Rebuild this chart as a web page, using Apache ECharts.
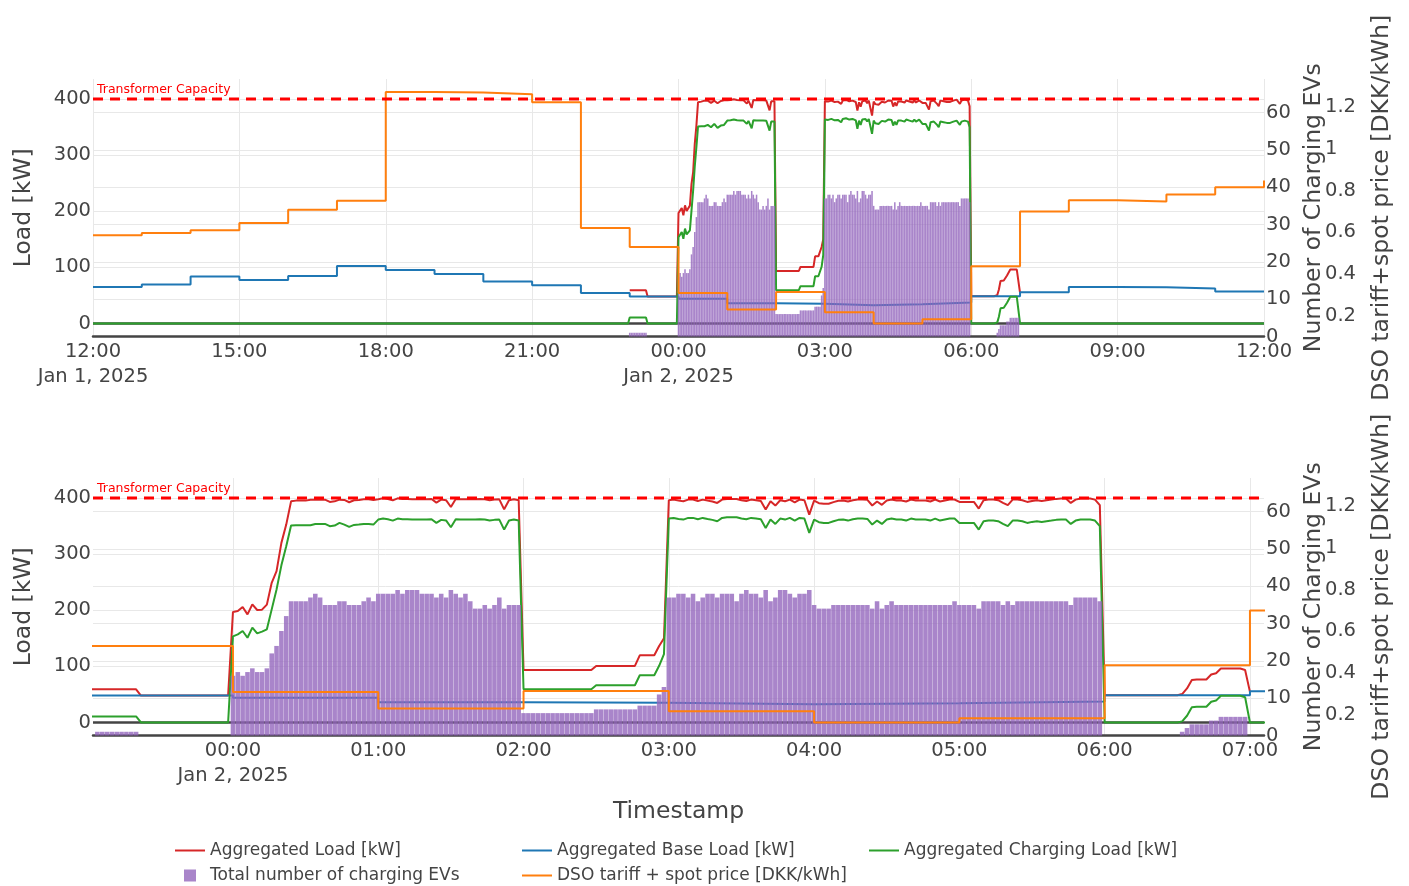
<!DOCTYPE html>
<html>
<head>
<meta charset="utf-8">
<title>Aggregated load and EV charging</title>
<script src="https://cdn.jsdelivr.net/npm/echarts@6/dist/echarts.min.js"></script>
<style>
  html, body { margin: 0; padding: 0; background: #fff; }
  #chart { width: 1409px; height: 886px; }
</style>
</head>
<body>
<div id="chart"></div>
<script>
// hourly values from 12:00 Jan 1 to 12:00 Jan 2 (last entry is the value at the end point)
const baseLoadKw = [65.2, 69.3, 83.6, 77.6, 84.7, 102.5, 95.4, 88.3, 74.7, 68.1, 54.5, 48.0,
  43.9, 36.1, 35.0, 32.3, 34.4, 37.3, 48.6, 55.7, 65.2, 64.6, 62.2, 56.9, 56.9];
const priceDkk = [0.586, 0.597, 0.610, 0.645, 0.708, 0.751, 1.270, 1.267, 1.259, 1.221, 0.621, 0.530,
  0.311, 0.232, 0.316, 0.219, 0.165, 0.186, 0.438, 0.700, 0.754, 0.748, 0.781, 0.816, 0.848];

// 2-minute samples from 23:00 Jan 1 to 07:00 Jan 2
const totalLoadKw = [
  59, 59, 59, 59, 59, 59, 59, 59, 59, 59, 59,
  48, 48, 48, 48, 48, 48, 48, 48, 48, 48, 48, 48, 48, 48, 48, 48, 48, 48, 48,
  196.8, 198.5, 205.7, 192.6, 210.4, 200.4, 201, 210, 248.9, 269.7, 320, 352.6, 394, 395.3, 395.3, 395.3,
  397, 397, 397, 397, 393, 394, 397,
  396.5, 392.4, 395.9, 396.5, 397.7, 397.7, 396.5, 397.6, 399.4, 398.1, 395.8, 399.4, 398.1, 398.1,
  397.6, 397.6, 397.6, 397.6, 398.1, 391.7, 397.1, 396.1, 384, 398.1, 397.6, 397.6, 397.6, 397.6,
  398.1, 397.6, 396.1, 397.1, 397.6, 379.8, 395.8, 397.6, 396.1,
  93.5, 93.5, 93.5, 93.5, 93.5, 93.5, 93.5, 93.5, 93.5, 93.5, 93.5, 93.5, 93.5, 93.5, 93.5,
  100.8, 100.8, 100.8, 100.8, 100.8, 100.8, 100.8, 100.8, 100.8,
  119.7, 119.7, 119.7, 119.7, 136.3, 150,
  395.9, 397.1, 395.3, 394.1, 397.1, 397.1, 394.6, 397.1, 395.3, 393.6, 391.2, 397.1, 398.3, 398.3,
  398.3, 395.9, 394.6, 397.1, 395.9, 394.6, 379.3, 394.1, 386.4, 395.9, 394.1, 397.1, 392.3, 397.1,
  395.9, 370.4, 395.5,
  390.8, 389.6, 389.6, 392.6, 395, 395.5, 393.7, 396, 397.3, 397.3, 396.7, 386.6, 393.7, 387.8, 395.5,
  397.3, 395.5, 395.5, 393.7, 397.3, 395.5, 395.5, 395.5, 393.7, 397.3, 393.7, 395.5, 397.3, 397.3,
  393, 393, 393, 393, 381.1, 396, 397.1, 397.1, 396, 391.2, 387.1, 397.1, 397.1, 396, 393,
  394.8, 396, 394.8, 396, 397.1, 398.4, 398.9, 398.9, 391.2, 397.1, 398.9, 398.9, 398.9, 397.1, 387.1,
  48.6, 48.6, 48.6, 48.6, 48.6, 48.6, 48.6, 48.6, 48.6, 48.6, 48.6, 48.6, 48.6, 48.6, 48.6, 48.6,
  50.6, 60.6, 75.6, 76.6, 76.6, 76.6, 85.6, 87.6, 96.1, 96.1, 96.1, 96.1, 96.1, 93.6,
  54.5
];
const chargingLoadKw = [
  10.7, 10.7, 10.7, 10.7, 10.7, 10.7, 10.7, 10.7, 10.7, 10.7, 10.7,
  0, 0, 0, 0, 0, 0, 0, 0, 0, 0, 0, 0, 0, 0, 0, 0, 0, 0, 0,
  153.5, 157, 163, 151, 169, 158.8, 161.8, 166, 201.5, 237, 280, 314, 350.8, 351.5, 351.5, 351.5,
  351.5, 353.8, 353.8, 353.8, 349.7, 350.9, 355.6,
  352.6, 348.5, 352, 352.6, 353.8, 353.8, 352.6, 361.5, 363.3, 362, 359.7, 363.3, 362, 362,
  361.5, 361.5, 361.5, 361.5, 362, 355.6, 361, 360, 347.9, 362, 361.5, 361.5, 361.5, 361.5,
  362, 361.5, 360, 361, 361.5, 343.7, 359.7, 361.5, 360,
  59.3, 59.3, 59.3, 59.3, 59.3, 59.3, 59.3, 59.3, 59.3, 59.3, 59.3, 59.3, 59.3, 59.3, 59.3,
  66.4, 66.4, 66.4, 66.4, 66.4, 66.4, 66.4, 66.4, 66.4,
  84.2, 84.2, 84.2, 84.2, 101, 122,
  363.3, 364.5, 362.7, 361.5, 364.5, 364.5, 362, 364.5, 362.7, 361, 358.6, 364.5, 365.7, 365.7,
  365.7, 363.3, 362, 364.5, 363.3, 362, 346.7, 361.5, 353.8, 363.3, 361.5, 364.5, 359.7, 364.5,
  363.3, 337.8, 361.5,
  356.8, 355.6, 355.6, 358.6, 361, 361.5, 359.7, 362, 363.3, 363.3, 362.7, 352.6, 359.7, 353.8, 361.5,
  363.3, 361.5, 361.5, 359.7, 363.3, 361.5, 361.5, 361.5, 359.7, 363.3, 359.7, 361.5, 363.3, 363.3,
  355.6, 355.6, 355.6, 355.6, 343.7, 358.6, 359.7, 359.7, 358.6, 353.8, 349.7, 359.7, 359.7, 358.6, 355.6,
  357.4, 358.6, 357.4, 358.6, 359.7, 361, 361.5, 361.5, 353.8, 359.7, 361.5, 361.5, 361.5, 359.7, 349.7,
  0, 0, 0, 0, 0, 0, 0, 0, 0, 0, 0, 0, 0, 0, 0, 0,
  2, 12, 27, 28, 28, 28, 37, 39, 47.5, 47.5, 47.5, 47.5, 47.5, 45,
  0
];
const chargingEvs = [
  1, 1, 1, 1, 1, 1, 1, 1, 1, 1, 1,
  0, 0, 0, 0, 0, 0, 0, 0, 0, 0, 0, 0, 0, 0, 0, 0, 0, 0, 0,
  16, 17, 16, 17, 18, 17, 17, 18, 22, 24, 28, 32, 36, 36, 36, 36, 37, 38, 37, 35, 35, 35, 36,
  36, 35, 35, 35, 36, 37, 36, 38, 38, 38, 38, 39, 38, 39, 39, 39, 38, 38, 38, 37, 38, 37, 39,
  38, 37, 38, 36, 34, 34, 35, 34, 35, 37, 34, 35, 35, 35,
  6, 6, 6, 6, 6, 6, 6, 6, 6, 6, 6, 6, 6, 6, 6,
  7, 7, 7, 7, 7, 7, 7, 7, 7,
  8, 8, 8, 8, 11, 13,
  37, 37, 38, 38, 37, 38, 36, 37, 38, 38, 37, 38, 38, 38, 36, 38, 39, 38, 38, 37, 39, 36, 37, 39,
  39, 38, 37, 38, 38, 39, 35,
  34, 34, 34, 35, 35, 35, 35, 35, 35, 35, 35, 34, 36, 34, 35, 36, 35, 35, 35, 35, 35, 35, 35, 35,
  35, 35, 35, 35, 36,
  35, 35, 35, 35, 34, 36, 36, 36, 36, 35, 36, 35, 36, 36, 36,
  36, 36, 36, 36, 36, 36, 36, 36, 35, 37, 37, 37, 37, 37, 36,
  0, 0, 0, 0, 0, 0, 0, 0, 0, 0, 0, 0, 0, 0, 0, 0,
  1, 2, 3, 3, 3, 3, 4, 4, 5, 5, 5, 5, 5, 5,
  0
];

const transformerCapacityKw = 400;
const loadTicks = [0, 100, 200, 300, 400];
const evTicks = [0, 10, 20, 30, 40, 50, 60];
const priceTicks = [0.2, 0.4, 0.6, 0.8, 1, 1.2];

const MIN = 60 * 1000;
const HOUR = 60 * MIN;
const dayStart = Date.UTC(2025, 0, 1, 12, 0);
const dayEnd = Date.UTC(2025, 0, 2, 12, 0);
const sampleStart = Date.UTC(2025, 0, 1, 23, 0);
const hourTimes = baseLoadKw.map((_, i) => dayStart + i * HOUR);
const sampleTimes = totalLoadKw.map((_, i) => sampleStart + i * 2 * MIN);

const xRanges = [
  [dayStart, dayEnd],
  [Date.UTC(2025, 0, 1, 23, 2, 12), Date.UTC(2025, 0, 2, 7, 5, 48)]
];
const xTicks = [
  [0, 3, 6, 9, 12, 15, 18, 21, 24].map(h => dayStart + h * HOUR),
  [0, 1, 2, 3, 4, 5, 6, 7].map(h => Date.UTC(2025, 0, 2, h))
];

const FONT = 'DejaVu Sans';
const TXT = '#444';
const GRID = '#e8e8e8';
const RED = '#d62728', BLUE = '#1f77b4', GREEN = '#2ca02c', PURPLE = '#9467bd', ORANGE = '#ff7f0e';

const pairs = (xs, ys) => xs.map((x, i) => [x, ys[i]]);

function fmtTime(v) {
  const d = new Date(v);
  const s = String(d.getUTCHours()).padStart(2, '0') + ':' + String(d.getUTCMinutes()).padStart(2, '0');
  if (v === dayStart) return s + '\nJan 1, 2025';
  if (d.getUTCHours() === 0) return s + '\nJan 2, 2025';
  return s;
}

const tickFont = { color: TXT, fontFamily: FONT, fontSize: 19.5 };
const titleFont = { color: TXT, fontFamily: FONT, fontSize: 23.5 };

const xAxes = [0, 1].map(g => ({
  type: 'value', gridIndex: g, min: xRanges[g][0], max: xRanges[g][1], scale: true,
  axisLine: { onZero: false, lineStyle: { color: '#444', width: 2.5 } },
  axisTick: { show: false, customValues: xTicks[g] },
  axisLabel: Object.assign({ customValues: xTicks[g], formatter: fmtTime, lineHeight: 25, margin: 3 }, tickFont),
  splitLine: { show: true, lineStyle: { color: GRID, width: 1 } },
  name: g === 1 ? 'Timestamp' : '', nameLocation: 'middle', nameGap: 64, nameTextStyle: titleFont
}));

const yAxes = [];
[0, 1].forEach(g => {
  yAxes.push({
    type: 'value', gridIndex: g, position: 'left', min: -23.2, max: 435.6,
    axisLine: { show: false }, axisTick: { show: false, customValues: loadTicks },
    axisLabel: Object.assign({ customValues: loadTicks, margin: 2 }, tickFont),
    splitLine: { show: true, lineStyle: { color: GRID, width: 1 } },
    name: 'Load [kW]', nameLocation: 'middle', nameGap: 57, nameTextStyle: titleFont
  });
  yAxes.push({
    type: 'value', gridIndex: g, position: 'right', min: 0, max: 69,
    axisLine: { show: false }, axisTick: { show: false, customValues: evTicks },
    axisLabel: Object.assign({ customValues: evTicks, margin: 2 }, tickFont),
    splitLine: { show: true, lineStyle: { color: GRID, width: 1 } },
    name: 'Number of Charging EVs', nameLocation: 'middle', nameGap: 37, nameTextStyle: titleFont
  });
  yAxes.push({
    type: 'value', gridIndex: g, position: 'right', offset: 58, min: 0.1033, max: 1.332,
    axisLine: { show: false }, axisTick: { show: false, customValues: priceTicks },
    axisLabel: Object.assign({ customValues: priceTicks, margin: 3 }, tickFont),
    splitLine: { show: false },
    name: 'DSO tariff+spot price [DKK/kWh]', nameLocation: 'middle', nameGap: 48, nameTextStyle: titleFont
  });
});

function seriesFor(g) {
  const base = { xAxisIndex: g, showSymbol: false, symbol: 'none', animation: false, clip: true };
  const ly = 3 * g;
  return [
    Object.assign({}, base, {
      name: '_zero', type: 'line', yAxisIndex: ly, silent: true, z: 1,
      data: [[xRanges[g][0], 0], [xRanges[g][1], 0]],
      lineStyle: { color: '#444', width: 2.5 }
    }),
    Object.assign({}, base, {
      name: 'Aggregated Load [kW]', type: 'line', yAxisIndex: ly, z: 2,
      data: pairs(sampleTimes, totalLoadKw),
      lineStyle: { color: RED, width: 2 }, itemStyle: { color: RED }
    }),
    Object.assign({}, base, {
      name: 'Aggregated Base Load [kW]', type: 'line', step: 'end', yAxisIndex: ly, z: 2,
      data: pairs(hourTimes, baseLoadKw),
      lineStyle: { color: BLUE, width: 2 }, itemStyle: { color: BLUE }
    }),
    Object.assign({}, base, {
      name: 'Aggregated Charging Load [kW]', type: 'line', yAxisIndex: ly, z: 2,
      // idle (0 kW) before 23:00 and after 07:00
      data: [[dayStart, 0], [sampleStart - 2 * MIN, 0]].concat(pairs(sampleTimes, chargingLoadKw), [[dayEnd, 0]]),
      lineStyle: { color: GREEN, width: 2 }, itemStyle: { color: GREEN }
    }),
    {
      name: 'Total number of charging EVs', type: 'bar', xAxisIndex: g, yAxisIndex: ly + 1, z: 3,
      animation: false, barWidth: '94%', clip: true,
      // drop samples that start before the visible window so no bar sticks out of the plot
      data: pairs(sampleTimes, chargingEvs).filter(p => p[0] - MIN >= xRanges[g][0] && p[0] + MIN <= xRanges[g][1] + MIN),
      itemStyle: { color: PURPLE, opacity: 0.8 }
    },
    Object.assign({}, base, {
      name: 'DSO tariff + spot price [DKK/kWh]', type: 'line', step: 'end', yAxisIndex: ly + 2, z: 4,
      data: pairs(hourTimes, priceDkk),
      lineStyle: { color: ORANGE, width: 2 }, itemStyle: { color: ORANGE }
    }),
    Object.assign({}, base, {
      name: 'Transformer Capacity', type: 'line', yAxisIndex: ly, z: 5, silent: true,
      data: [[xRanges[g][0], transformerCapacityKw], [xRanges[g][1], transformerCapacityKw]],
      lineStyle: { color: '#ff0000', width: 3, type: [10, 7] }
    })
  ];
}

function legendItem(name, left, cy, extra) {
  return Object.assign({
    data: [name], left: left, top: cy - 10, padding: 0, itemWidth: 30, itemHeight: 2, icon: 'rect',
    textStyle: { color: TXT, fontFamily: FONT, fontSize: 17 }
  }, extra || {});
}

const chart = echarts.init(document.getElementById('chart'));
chart.setOption({
  animation: false,
  backgroundColor: '#fff',
  textStyle: { fontFamily: FONT },
  grid: [
    { left: 93, top: 79, width: 1171, height: 257.5 },
    { left: 93, top: 478, width: 1171, height: 257.5 }
  ],
  xAxis: xAxes,
  yAxis: yAxes,
  series: seriesFor(0).concat(seriesFor(1)),
  legend: [
    legendItem('Aggregated Load [kW]', 175, 852),
    legendItem('Aggregated Base Load [kW]', 522, 852),
    legendItem('Aggregated Charging Load [kW]', 869, 852),
    legendItem('Total number of charging EVs', 184, 877, {
      itemWidth: 12, itemHeight: 12,
      textStyle: { color: TXT, fontFamily: FONT, fontSize: 17, padding: [0, 0, 0, 9] }
    }),
    legendItem('DSO tariff + spot price [DKK/kWh]', 522, 877)
  ],
  graphic: [
    { type: 'text', left: 97, top: 83, style: { text: 'Transformer Capacity', fill: '#ff0000', font: '12.5px "DejaVu Sans"' } },
    { type: 'text', left: 97, top: 482, style: { text: 'Transformer Capacity', fill: '#ff0000', font: '12.5px "DejaVu Sans"' } }
  ]
});
</script>
</body>
</html>
